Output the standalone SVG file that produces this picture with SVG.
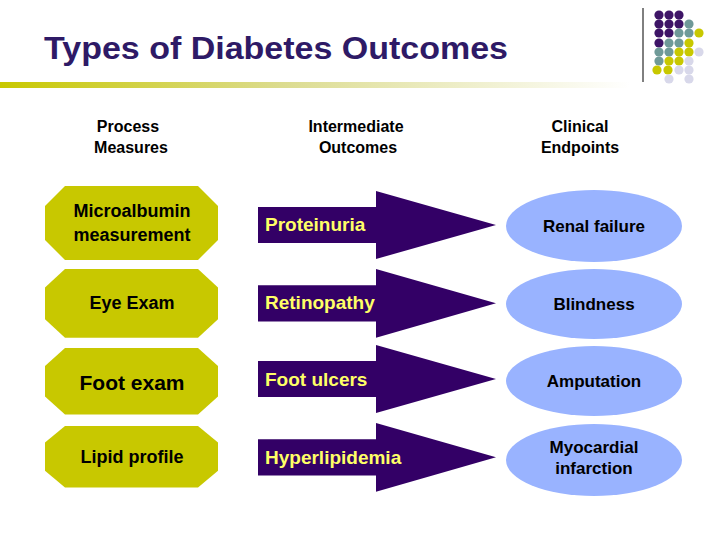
<svg xmlns="http://www.w3.org/2000/svg" width="720" height="540" viewBox="0 0 720 540">
<defs>
<linearGradient id="ul" x1="0" x2="1" y1="0" y2="0"><stop offset="0" stop-color="#c8c800"/><stop offset="0.45" stop-color="#dcdc90"/><stop offset="1" stop-color="#ffffff"/></linearGradient>
<polygon id="oct" points="20,0 153,0 173,20 173,54 153,74 20,74 0,54 0,20"/>
<polygon id="arr" points="0,16 118,16 118,0 238,34 118,68 118,52 0,52"/>
</defs>
<style>
text{font-family:"Liberation Sans",Arial,sans-serif;text-anchor:middle;fill:#000;font-weight:bold}
.oct{fill:#c8c800}
.arr{fill:#330066}
.ell{fill:#99b3ff}
.h{font-size:16px}
.o{font-size:18px}
.a{font-size:19px;fill:#ffff66;text-anchor:start}
.e{font-size:17px}
.P{fill:#3d1466}.T{fill:#6f9a98}.Y{fill:#c8c800}.L{fill:#d8d8ea}
</style>
<rect width="720" height="540" fill="#fff"/>
<g id="logo">
<line x1="643" y1="8" x2="643" y2="82" stroke="#000" stroke-width="1"/>
<g>
<circle class="P" cx="659" cy="15" r="4.6"/><circle class="P" cx="669" cy="15" r="4.6"/><circle class="P" cx="679" cy="15" r="4.6"/>
<circle class="P" cx="659" cy="24" r="4.6"/><circle class="P" cx="669" cy="24" r="4.6"/><circle class="P" cx="679" cy="24" r="4.6"/><circle class="T" cx="689" cy="24" r="4.6"/>
<circle class="P" cx="659" cy="33" r="4.6"/><circle class="P" cx="669" cy="33" r="4.6"/><circle class="T" cx="679" cy="33" r="4.6"/><circle class="T" cx="689" cy="33" r="4.6"/><circle class="Y" cx="699" cy="33" r="4.6"/>
<circle class="P" cx="659" cy="43" r="4.6"/><circle class="T" cx="669" cy="43" r="4.6"/><circle class="T" cx="679" cy="43" r="4.6"/><circle class="Y" cx="689" cy="43" r="4.6"/>
<circle class="T" cx="659" cy="52" r="4.6"/><circle class="T" cx="669" cy="52" r="4.6"/><circle class="Y" cx="679" cy="52" r="4.6"/><circle class="Y" cx="689" cy="52" r="4.6"/><circle class="L" cx="699" cy="52" r="4.6"/>
<circle class="T" cx="659" cy="61" r="4.6"/><circle class="Y" cx="669" cy="61" r="4.6"/><circle class="Y" cx="679" cy="61" r="4.6"/><circle class="L" cx="689" cy="61" r="4.6"/>
<circle class="Y" cx="657" cy="70" r="4.6"/><circle class="Y" cx="668" cy="70" r="4.6"/><circle class="L" cx="679" cy="70" r="4.6"/><circle class="L" cx="689" cy="70" r="4.6"/>
<circle class="L" cx="669" cy="79" r="4.6"/><circle class="L" cx="689" cy="79" r="4.6"/>
</g>
</g>
<g id="title">
<text x="44" y="59" style="font-size:32px;fill:#2e1a66;text-anchor:start" textLength="464" lengthAdjust="spacingAndGlyphs">Types of Diabetes Outcomes</text>
<rect x="0" y="82" width="630" height="6" fill="url(#ul)"/>
</g>
<g id="headers">
<text class="h" x="128" y="132">Process</text><text class="h" x="131" y="153">Measures</text>
<text class="h" x="356" y="132">Intermediate</text><text class="h" x="358" y="153">Outcomes</text>
<text class="h" x="580" y="132">Clinical</text><text class="h" x="580" y="153">Endpoints</text>
</g>
<g id="micro"><use href="#oct" class="oct" transform="translate(45,186)"/><text class="o" x="132" y="217">Microalbumin</text><text class="o" x="132" y="241">measurement</text></g>
<g id="eye"><use href="#oct" class="oct" transform="translate(45,269) scale(1,0.93)"/><text class="o" x="132" y="309">Eye Exam</text></g>
<g id="foot"><use href="#oct" class="oct" transform="translate(45,348) scale(1,0.9)"/><text x="132" y="390" style="font-size:21px">Foot exam</text></g>
<g id="lipid"><use href="#oct" class="oct" transform="translate(45,426) scale(1,0.83)"/><text class="o" x="132" y="463">Lipid profile</text></g>
<g id="connectors">
<use href="#arr" class="arr" transform="translate(258,191)"/>
<use href="#arr" class="arr" transform="translate(258,269) scale(1,1.01)"/>
<use href="#arr" class="arr" transform="translate(258,345)"/>
<use href="#arr" class="arr" transform="translate(258,423) scale(1,1.01)"/>
</g>
<g id="ilabels">
<text class="a" x="265" y="231">Proteinuria</text>
<text class="a" x="265" y="309">Retinopathy</text>
<text class="a" x="265" y="386">Foot ulcers</text>
<text class="a" x="265" y="464">Hyperlipidemia</text>
</g>
<g id="renal"><ellipse class="ell" cx="594" cy="226" rx="88" ry="36"/><text class="e" x="594" y="232">Renal failure</text></g>
<g id="blind"><ellipse class="ell" cx="594" cy="304" rx="88" ry="35"/><text class="e" x="594" y="310">Blindness</text></g>
<g id="amp"><ellipse class="ell" cx="594" cy="381" rx="88" ry="35"/><text class="e" x="594" y="387">Amputation</text></g>
<g id="mi"><ellipse class="ell" cx="594" cy="460" rx="88" ry="36"/><text class="e" x="594" y="453">Myocardial</text><text class="e" x="594" y="474">infarction</text></g>
</svg>
